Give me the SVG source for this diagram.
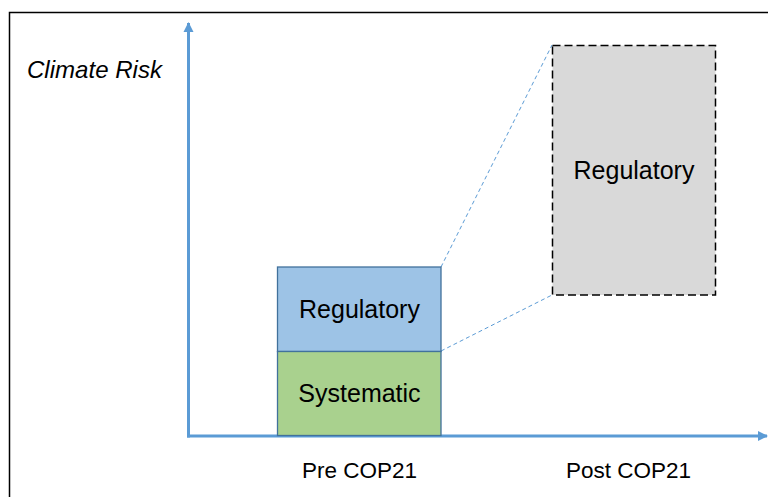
<svg xmlns="http://www.w3.org/2000/svg" width="768" height="497" viewBox="0 0 768 497">
<style>
.t{font-family:"Liberation Sans",Arial,sans-serif;fill:#000;text-anchor:middle}
.ax{stroke:#5B9BD5;stroke-width:3;fill:none}
.bar{stroke:#41719C;stroke-width:1.3}
.lead{stroke:#5B9BD5;stroke-width:1;stroke-dasharray:4 3;fill:none}
</style>
<defs>
<marker id="arr" viewBox="0 0 10 10" refX="9" refY="5" markerWidth="3.4" markerHeight="3.4" orient="auto" markerUnits="strokeWidth">
<path d="M0,0 L10,5 L0,10 Z" fill="#5B9BD5"/>
</marker>
</defs>
<rect x="0" y="0" width="768" height="497" fill="#fff"/>
<path d="M9.5,510 L9.5,12.5 L780,12.5" fill="none" stroke="#000" stroke-width="1.5"/>
<g id="axes">
<line class="ax" x1="188.5" y1="437.5" x2="188.5" y2="23" marker-end="url(#arr)"/>
<line class="ax" x1="187" y1="436" x2="767" y2="436" marker-end="url(#arr)"/>
</g>
<g id="connectors">
<line class="lead" x1="441" y1="267" x2="552" y2="45"/>
<line class="lead" x1="441" y1="351" x2="552" y2="295"/>
</g>
<g id="pre-regulatory">
<rect class="bar" x="277.5" y="267" width="163.5" height="84.5" fill="#9DC3E6"/>
<text class="t" x="359.5" y="318" font-size="25">Regulatory</text>
</g>
<g id="pre-systematic">
<rect class="bar" x="277.5" y="351.5" width="163.5" height="84" fill="#A9D18E"/>
<text class="t" x="359.5" y="402" font-size="25">Systematic</text>
</g>
<g id="post-regulatory">
<rect x="552.5" y="45.5" width="163" height="249.5" fill="#D9D9D9" stroke="#000" stroke-width="1.5" stroke-dasharray="8 4"/>
<text class="t" x="634" y="179" font-size="25">Regulatory</text>
</g>
<text x="27" y="78" font-family="'Liberation Sans',Arial,sans-serif" font-style="italic" font-size="24" textLength="135" lengthAdjust="spacingAndGlyphs">Climate Risk</text>
<text class="t" x="359.5" y="478" font-size="22.5">Pre COP21</text>
<text class="t" x="628.5" y="478" font-size="22.5">Post COP21</text>
</svg>
